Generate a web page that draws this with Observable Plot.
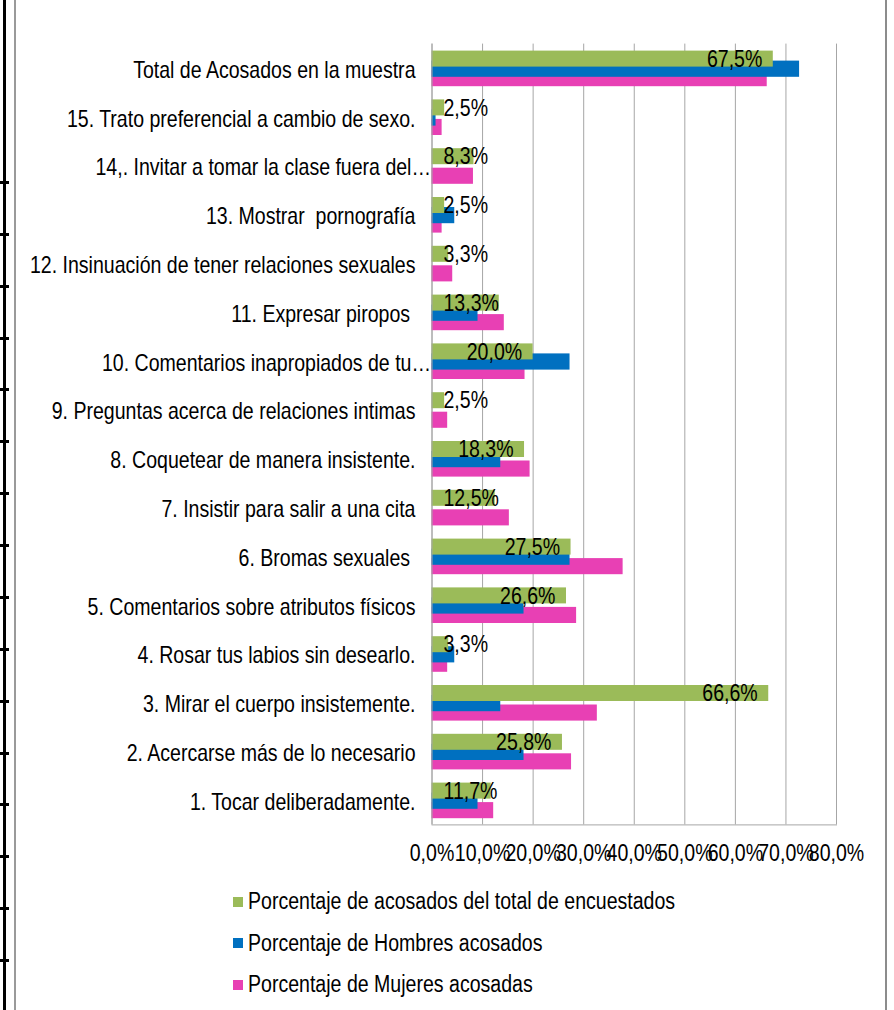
<!DOCTYPE html>
<html>
<head>
<meta charset="utf-8">
<script src="https://cdn.jsdelivr.net/npm/d3@7"></script>
<script src="https://cdn.jsdelivr.net/npm/@observablehq/plot@0.6"></script>
<style>
  html, body { margin: 0; padding: 0; background: #fff; }
  #page { position: relative; width: 894px; height: 1010px; overflow: hidden; background: #fff; }
  #chart { position: absolute; left: 0; top: 0; }
  .deco { position: absolute; }
  #legend { position: absolute; left: 233px; top: 881px; }
  .lrow { display: flex; align-items: center; height: 41.5px; }
  .sw { width: 10px; height: 10px; margin-right: 5px; flex: none; }
  .lt { color: #000; white-space: nowrap; display: inline-block; transform: scaleX(0.85); transform-origin: left center; }
</style>
</head>
<body>
<div id="page">
  <div class="deco" style="left:3px;top:0;width:3px;height:1010px;background:#000"></div>
  <div class="deco" style="left:0;top:180.5px;width:9px;height:784px;background:repeating-linear-gradient(to bottom,#000 0,#000 3px,transparent 3px,transparent 51.87px)"></div>
  <div class="deco" style="left:14px;top:0;width:2px;height:1010px;background:#9a9a9a"></div>
  <div class="deco" style="left:885px;top:0;width:2px;height:1010px;background:#8c8c8c"></div>
  <div id="chart"></div>
  <div id="legend"></div>
</div>
<script>
// ---- data ----
const categories = [
  "Total de Acosados en la muestra",
  "15. Trato preferencial a cambio de sexo.",
  "14,. Invitar a tomar la clase fuera del…",
  "13. Mostrar  pornografía",
  "12. Insinuación de tener relaciones sexuales",
  "11. Expresar piropos ",
  "10. Comentarios inapropiados de tu…",
  "9. Preguntas acerca de relaciones intimas",
  "8. Coquetear de manera insistente.",
  "7. Insistir para salir a una cita",
  "6. Bromas sexuales ",
  "5. Comentarios sobre atributos físicos",
  "4. Rosar tus labios sin desearlo.",
  "3. Mirar el cuerpo insistemente.",
  "2. Acercarse más de lo necesario",
  "1. Tocar deliberadamente."
];
const truncated = ["14,. Invitar a tomar la clase fuera del…", "10. Comentarios inapropiados de tu…"];
const totalPct = [67.5, 2.5, 8.3, 2.5, 3.3, 13.3, 20.0, 2.5, 18.3, 12.5, 27.5, 26.6, 3.3, 66.6, 25.8, 11.7];
const menPct   = [72.7, 0.8, 0, 4.5, 0, 9.1, 27.3, 0, 13.6, 0, 27.3, 18.2, 4.5, 13.6, 18.2, 9.1];
const womenPct = [66.3, 2.0, 8.2, 2.0, 4.1, 14.3, 18.4, 3.1, 19.4, 15.3, 37.8, 28.6, 3.1, 32.7, 27.6, 12.2];
const xTicks = [0, 10, 20, 30, 40, 50, 60, 70, 80];
const seriesNames = [
  "Porcentaje de acosados del total de encuestados",
  "Porcentaje de Hombres acosados",
  "Porcentaje de Mujeres acosadas"
];
const seriesColors = ["#9bbb59", "#0070c0", "#e840b4"];

const FONT = "'Liberation Sans', Arial, sans-serif";
const FS = 23;
const SX = 0.85;

const rows = categories.map((c, i) => ({cat: c, total: totalPct[i], men: menPct[i], women: womenPct[i]}));
const fmt = v => v.toFixed(1).replace(".", ",") + "%";

const plot = Plot.plot({
  width: 894,
  height: 870,
  marginTop: 43.6,
  marginBottom: 45.6,
  marginLeft: 431.5,
  marginRight: 58,
  style: {fontFamily: FONT, fontSize: FS + "px", color: "#000", background: "transparent"},
  x: {domain: [0, 80], label: null},
  y: {domain: categories, padding: 0, round: false, label: null},
  marks: [
    Plot.gridX(xTicks, {stroke: "#a6a6a6", strokeOpacity: 1}),
    Plot.barX(rows, {x: "women", y: "cat", fill: seriesColors[2], insetTop: 26.5, insetBottom: 6.2}),
    Plot.barX(rows, {x: "men", y: "cat", fill: seriesColors[1], insetTop: 17, insetBottom: 15.6}),
    Plot.barX(rows, {x: "total", y: "cat", fill: seriesColors[0], insetTop: 7, insetBottom: 25.8}),
    Plot.ruleX([0], {stroke: "#a6a6a6"}),
    Plot.frame({anchor: "bottom", stroke: "#a6a6a6"}),
    Plot.axisX(xTicks, {tickSize: 0, tickPadding: 20, tickFormat: fmt, label: null, fill: "#000"}),
    Plot.axisY(categories.filter(c => !truncated.includes(c)), {tickSize: 0, tickPadding: 16.5, dy: 2, label: null, fill: "#000"}),
    Plot.axisY(truncated, {tickSize: 0, tickPadding: 1, dy: 2, label: null, fill: "#000"}),
    Plot.text(rows.filter(d => d.total >= 15), {x: "total", y: "cat", text: d => fmt(d.total), textAnchor: "end", dx: -11, dy: -9, fill: "#000"}),
    Plot.text(rows.filter(d => d.total < 15), {y: "cat", frameAnchor: "left", text: d => fmt(d.total), textAnchor: "start", dx: 11.5, dy: -9, fill: "#000"})
  ]
});

// condense all text horizontally about its anchor point (emulates a narrow typeface)
plot.querySelectorAll("text").forEach(el => {
  const t = el.getAttribute("transform") || "";
  el.setAttribute("transform", `${t} scale(${SX},1)`);
});
document.getElementById("chart").appendChild(plot);

// ---- legend ----
const legend = document.getElementById("legend");
seriesNames.forEach((name, i) => {
  const row = document.createElement("div");
  row.className = "lrow";
  const sw = document.createElement("div");
  sw.className = "sw";
  sw.style.background = seriesColors[i];
  const t = document.createElement("span");
  t.className = "lt";
  t.textContent = name;
  t.style.fontFamily = FONT;
  t.style.fontSize = FS + "px";
  row.appendChild(sw); row.appendChild(t);
  legend.appendChild(row);
});
</script>
</body>
</html>
